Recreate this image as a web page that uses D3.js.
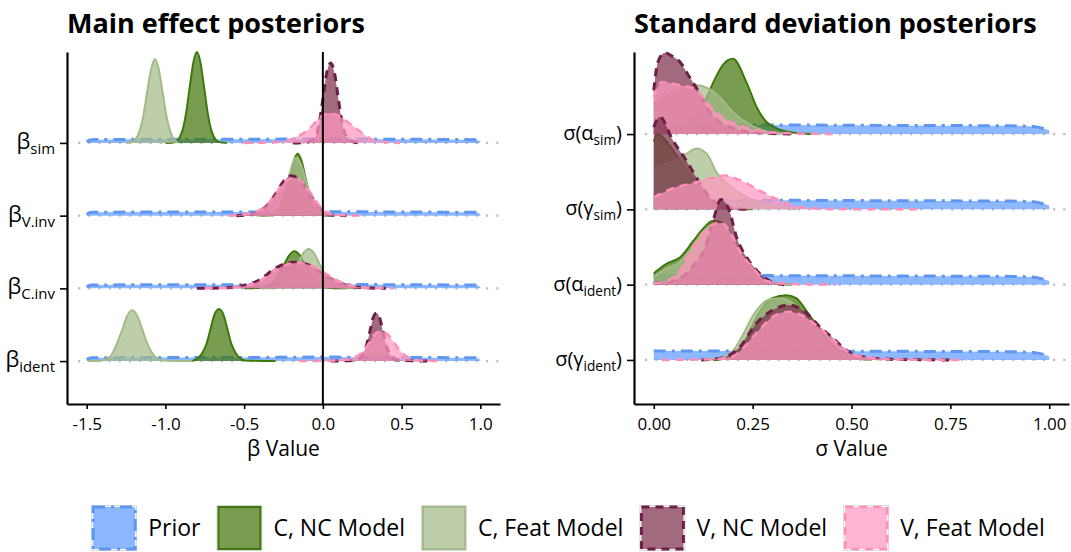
<!DOCTYPE html>
<html>
<head>
<meta charset="utf-8">
<script src="https://cdnjs.cloudflare.com/ajax/libs/d3/7.8.5/d3.min.js"></script>
<style>
body { margin: 0; background: #fff; }
text { font-family: "Open Sans", "Noto Sans", sans-serif; fill: #000; }
</style>
</head>
<body>
<script>

// ---- data ----
// ridge heights are given in "row units" (1 = distance between two rows)
var seriesNames = ["Prior", "C, NC Model", "C, Feat Model", "V, NC Model", "V, Feat Model"];

var betaRows = ["sim", "V.inv", "C.inv", "ident"];
var betaTicks = [-1.5, -1.0, -0.5, 0.0, 0.5, 1.0];

var sigmaRows = [["α", "sim"], ["γ", "sim"], ["α", "ident"], ["γ", "ident"]];
var sigmaTicks = [0, 0.25, 0.5, 0.75, 1.0];

// prior looks the same for every row
var betaPriorRow = [[-1.5,0.02],[-1.47,0.045],[-1.0,0.05],[-0.5,0.05],[0,0.055],[0.5,0.05],[0.97,0.045],[1.0,0.02]];
var betaPrior = [betaPriorRow, betaPriorRow, betaPriorRow, betaPriorRow];

var betaCNC = [
	[[-1.0,0],[-0.94,0.01],[-0.915,0.055],[-0.892,0.169],[-0.869,0.406],[-0.846,0.759],[-0.823,1.1],[-0.80,1.25],[-0.777,1.1],[-0.754,0.759],[-0.731,0.406],[-0.708,0.169],[-0.685,0.055],[-0.662,0.014],[-0.61,0]],
	[[-0.40,0],[-0.31,0.01],[-0.26,0.11],[-0.235,0.28],[-0.21,0.52],[-0.185,0.75],[-0.16,0.85],[-0.135,0.75],[-0.11,0.52],[-0.085,0.28],[-0.06,0.11],[-0.01,0.01],[0.05,0]],
	[[-0.5,0],[-0.39,0.01],[-0.32,0.07],[-0.285,0.17],[-0.25,0.31],[-0.215,0.45],[-0.18,0.51],[-0.145,0.45],[-0.11,0.31],[-0.075,0.17],[-0.04,0.07],[0.03,0.01],[0.15,0]],
	[[-0.83,0],[-0.80,0.03],[-0.77,0.097],[-0.74,0.23],[-0.715,0.43],[-0.69,0.63],[-0.66,0.715],[-0.63,0.63],[-0.605,0.43],[-0.58,0.23],[-0.55,0.097],[-0.52,0.03],[-0.495,0.008],[-0.30,0]]
];
var betaCFeat = [
	[[-1.25,0],[-1.214,0.013],[-1.19,0.05],[-1.165,0.156],[-1.14,0.375],[-1.116,0.70],[-1.09,1.02],[-1.067,1.155],[-1.043,1.02],[-1.018,0.70],[-0.994,0.375],[-0.969,0.156],[-0.945,0.05],[-0.92,0]],
	[[-0.42,0],[-0.33,0.01],[-0.28,0.1],[-0.25,0.26],[-0.22,0.49],[-0.195,0.7],[-0.17,0.8],[-0.14,0.71],[-0.11,0.5],[-0.08,0.28],[-0.05,0.12],[0,0.02],[0.06,0]],
	[[-0.4,0],[-0.30,0.01],[-0.23,0.07],[-0.195,0.18],[-0.16,0.33],[-0.125,0.48],[-0.09,0.54],[-0.055,0.48],[-0.02,0.33],[0.015,0.18],[0.05,0.07],[0.12,0.01],[0.25,0]],
	[[-1.49,0],[-1.405,0.008],[-1.37,0.03],[-1.34,0.095],[-1.31,0.23],[-1.275,0.425],[-1.243,0.62],[-1.21,0.70],[-1.178,0.62],[-1.145,0.425],[-1.113,0.23],[-1.08,0.095],[-1.048,0.03],[-1.015,0.008],[-0.83,0]]
];
var betaVNC = [
	[[-0.19,0],[-0.10,0.01],[-0.05,0.07],[-0.025,0.25],[0,0.60],[0.025,0.97],[0.05,1.10],[0.075,0.95],[0.10,0.58],[0.125,0.25],[0.15,0.08],[0.2,0.01],[0.25,0]],
	[[-0.55,0],[-0.45,0.02],[-0.4,0.06],[-0.35,0.15],[-0.3,0.30],[-0.25,0.47],[-0.2,0.55],[-0.15,0.5],[-0.1,0.34],[-0.05,0.2],[0,0.05],[0.05,0.01],[0.15,0]],
	[[-0.8,0],[-0.6,0.01],[-0.5,0.04],[-0.4,0.12],[-0.3,0.28],[-0.19,0.36],[-0.1,0.33],[0,0.2],[0.1,0.08],[0.2,0.02],[0.3,0.005],[0.4,0]],
	[[0.05,0],[0.2,0.01],[0.25,0.08],[0.275,0.2],[0.3,0.42],[0.32,0.6],[0.34,0.66],[0.36,0.6],[0.38,0.42],[0.405,0.2],[0.43,0.08],[0.48,0.01],[0.7,0]]
];
var betaVFeat = [
	[[-0.5,0],[-0.3,0.01],[-0.2,0.05],[-0.1,0.17],[0,0.38],[0.05,0.41],[0.1,0.37],[0.2,0.22],[0.3,0.06],[0.4,0.01],[0.49,0]],
	[[-0.6,0],[-0.5,0.02],[-0.4,0.08],[-0.35,0.16],[-0.3,0.30],[-0.25,0.45],[-0.19,0.52],[-0.13,0.46],[-0.08,0.32],[-0.03,0.16],[0.02,0.05],[0.1,0.01],[0.25,0]],
	[[-0.75,0],[-0.6,0.01],[-0.5,0.03],[-0.4,0.1],[-0.3,0.25],[-0.17,0.35],[-0.08,0.32],[0.02,0.2],[0.12,0.08],[0.22,0.02],[0.32,0.005],[0.45,0]],
	[[-0.15,0],[0.1,0.01],[0.2,0.05],[0.25,0.12],[0.3,0.27],[0.33,0.37],[0.37,0.41],[0.41,0.37],[0.45,0.26],[0.5,0.12],[0.55,0.04],[0.6,0.01],[0.75,0]]
];

var sigmaPriorRow = [[0,0.12],[0.3,0.12],[0.6,0.115],[0.9,0.11],[0.96,0.1],[1.0,0.05]];
var sigmaPrior = [sigmaPriorRow, sigmaPriorRow, sigmaPriorRow, sigmaPriorRow];

var sigmaCNC = [
	[[0,0.02],[0.05,0.05],[0.1,0.2],[0.133,0.48],[0.15,0.68],[0.175,0.92],[0.2,1.0],[0.235,0.68],[0.26,0.36],[0.285,0.16],[0.31,0.08],[0.35,0.02],[0.4,0]],
	[[0,0.9],[0.01,1.0],[0.04,0.85],[0.07,0.62],[0.1,0.4],[0.12,0.25],[0.15,0.1],[0.2,0.02],[0.25,0]],
	[[0,0.15],[0.033,0.28],[0.066,0.36],[0.1,0.58],[0.124,0.74],[0.15,0.85],[0.175,0.82],[0.2,0.6],[0.23,0.32],[0.26,0.12],[0.3,0.02],[0.35,0]],
	[[0.15,0],[0.18,0.02],[0.21,0.09],[0.235,0.3],[0.26,0.57],[0.3,0.82],[0.335,0.86],[0.36,0.82],[0.385,0.66],[0.42,0.4],[0.46,0.15],[0.5,0.04],[0.55,0]]
];
var sigmaCFeat = [
	[[0,0.40],[0.03,0.50],[0.06,0.58],[0.09,0.63],[0.11,0.65],[0.14,0.60],[0.167,0.49],[0.2,0.29],[0.235,0.15],[0.27,0.06],[0.3,0.02],[0.35,0]],
	[[0,0.55],[0.04,0.62],[0.083,0.74],[0.108,0.81],[0.134,0.74],[0.16,0.48],[0.184,0.35],[0.235,0.16],[0.3,0.05],[0.36,0]],
	[[0,0.1],[0.033,0.22],[0.066,0.3],[0.1,0.52],[0.124,0.7],[0.15,0.8],[0.175,0.8],[0.2,0.6],[0.23,0.32],[0.26,0.12],[0.3,0.02],[0.35,0]],
	[[0.13,0],[0.17,0.03],[0.2,0.12],[0.225,0.33],[0.25,0.58],[0.29,0.8],[0.32,0.82],[0.35,0.76],[0.38,0.6],[0.41,0.38],[0.45,0.15],[0.5,0.04],[0.55,0]]
];
var sigmaVNC = [
	[[0,0.58],[0.01,0.95],[0.028,1.08],[0.045,1.04],[0.066,0.96],[0.09,0.76],[0.116,0.54],[0.133,0.36],[0.16,0.19],[0.2,0.08],[0.26,0.02],[0.35,0]],
	[[0,1.09],[0.015,1.23],[0.048,0.92],[0.082,0.65],[0.108,0.42],[0.134,0.21],[0.167,0.05],[0.2,0.01],[0.25,0]],
	[[0,0.02],[0.05,0.05],[0.1,0.25],[0.13,0.5],[0.15,0.85],[0.17,1.13],[0.19,1.0],[0.21,0.62],[0.235,0.36],[0.26,0.19],[0.293,0.05],[0.33,0]],
	[[0.12,0],[0.175,0.03],[0.217,0.17],[0.26,0.49],[0.3,0.66],[0.34,0.73],[0.38,0.65],[0.42,0.44],[0.453,0.29],[0.495,0.1],[0.53,0.04],[0.6,0.01],[0.755,0]]
];
var sigmaVFeat = [
	[[0,0.49],[0.02,0.69],[0.066,0.65],[0.1,0.61],[0.133,0.43],[0.167,0.25],[0.2,0.15],[0.26,0.05],[0.32,0.015],[0.46,0]],
	[[0,0.16],[0.048,0.28],[0.1,0.35],[0.15,0.42],[0.18,0.45],[0.217,0.39],[0.268,0.25],[0.318,0.12],[0.37,0.03],[0.45,0.005],[0.68,0]],
	[[0,0.02],[0.033,0.05],[0.066,0.19],[0.09,0.42],[0.124,0.68],[0.15,0.8],[0.172,0.82],[0.195,0.68],[0.217,0.45],[0.25,0.23],[0.285,0.05],[0.35,0.01],[0.46,0]],
	[[0.02,0],[0.15,0.01],[0.2,0.05],[0.26,0.36],[0.3,0.57],[0.34,0.64],[0.38,0.58],[0.42,0.42],[0.46,0.24],[0.5,0.08],[0.55,0.03],[0.62,0.005],[0.79,0]]
];

// ---- styles ----
var fills   = ["#619CFF", "#44770D", "#A5BB89", "#7D304C", "#FF99BF"];
var strokes = ["#5E96F0", "#3B7A0A", "#A3BB88", "#6E1F45", "#FF8FB8"];
var widths  = [3, 2, 2, 3, 2.5];
var dashes  = ["12,6,3,6", null, null, "8,6", "8,6"];

var svg = d3.select("body").append("svg")
		.attr("width", 1071)
		.attr("height", 552);

function drawPanel (opts) {
	var g = svg.append("g");
	var x = d3.scaleLinear().domain(opts.xDomain).range(opts.xRange);
	// rows are counted from the bottom: last row = 0
	var y = d3.scaleLinear().domain(opts.yDomain).range([404, 52]);
	var n = opts.rows.length;

	// dotted grid at every ridge baseline
	g.selectAll(".grid").data(opts.rows).enter().append("line")
			.attr("x1", opts.xRange[0] + 11)
			.attr("x2", opts.xRange[1])
			.attr("y1", function (d, i) { return y(n - 1 - i); })
			.attr("y2", function (d, i) { return y(n - 1 - i); })
			.attr("stroke", "#bdbdbd")
			.attr("stroke-width", 2.2)
			.attr("stroke-dasharray", "2.2,8");

	// ridges, top row first so lower rows sit on top
	for (var r = 0; r < n; r++) {
		var base = n - 1 - r;
		var area = d3.area()
				.x(function (d) { return x(d[0]); })
				.y0(y(base))
				.y1(function (d) { return y(base + d[1]); })
				.curve(d3.curveMonotoneX);
		var line = d3.line()
				.x(function (d) { return x(d[0]); })
				.y(function (d) { return y(base + d[1]); })
				.curve(d3.curveMonotoneX);

		for (var s = 0; s < opts.series.length; s++) {
			var pts = opts.series[s][r];
			g.append("path")
					.attr("d", area(pts))
					.attr("fill", fills[s])
					.attr("fill-opacity", 0.72);
			g.append("path")
					.attr("d", line(pts))
					.attr("fill", "none")
					.attr("stroke", strokes[s])
					.attr("stroke-width", widths[s])
					.attr("stroke-dasharray", dashes[s]);
		}
	}

	if (opts.zeroLine) {
		g.append("line")
				.attr("x1", x(0)).attr("x2", x(0))
				.attr("y1", 52).attr("y2", 404)
				.attr("stroke", "#000")
				.attr("stroke-width", 2);
	}

	// x axis
	var xAxis = g.append("g")
			.attr("transform", "translate(0,404)")
			.call(d3.axisBottom(x).tickValues(opts.ticks).tickFormat(opts.fmt).tickSize(5).tickSizeOuter(0));
	xAxis.select(".domain").attr("stroke-width", 2.2);
	xAxis.selectAll(".tick line").attr("stroke-width", 1.6);
	xAxis.selectAll("text")
			.attr("font-size", 17)
			.attr("font-family", "Open Sans, sans-serif")
			.attr("dy", "1.05em");

	// y axis
	var yAxis = g.append("g")
			.attr("transform", "translate(" + opts.xRange[0] + ",0)")
			.call(d3.axisLeft(y).tickValues(d3.range(n)).tickFormat("").tickSize(7).tickSizeOuter(0));
	yAxis.select(".domain").attr("stroke-width", 2.2);
	yAxis.selectAll(".tick line").attr("stroke-width", 1.6);

	for (var i = 0; i < n; i++) {
		var t = g.append("text")
				.attr("x", opts.xRange[0] - 12)
				.attr("y", y(n - 1 - i) + 6)
				.attr("text-anchor", "end")
				.attr("font-size", opts.labelSize);
		var parts = opts.label(opts.rows[i]);
		t.append("tspan").text(parts[0]);
		t.append("tspan").attr("font-size", opts.labelSize * 0.68).attr("dy", 5).text(parts[1]);
		if (parts[2]) t.append("tspan").attr("dy", -5).text(parts[2]);
	}

	// axis title
	g.append("text")
			.attr("x", (opts.xRange[0] + opts.xRange[1]) / 2)
			.attr("y", 456)
			.attr("text-anchor", "middle")
			.attr("font-size", 21)
			.text(opts.xTitle);

	// panel title
	g.append("text")
			.attr("x", opts.xRange[0])
			.attr("y", 33)
			.attr("font-size", 27)
			.attr("font-weight", "bold")
			.text(opts.title);
}

drawPanel({
	title: "Main effect posteriors",
	xTitle: "β Value",
	xDomain: [-1.625, 1.125],
	xRange: [67, 500],
	yDomain: [-0.59, 4.25],
	rows: betaRows,
	ticks: betaTicks,
	fmt: function (d) { return d.toFixed(1); },
	label: function (d) { return ["β", d]; },
	labelSize: 22,
	series: [betaPrior, betaCNC, betaCFeat, betaVNC, betaVFeat],
	zeroLine: true
});

drawPanel({
	title: "Standard deviation posteriors",
	xTitle: "σ Value",
	xDomain: [-0.05, 1.05],
	xRange: [634, 1069],
	yDomain: [-0.585, 4.09],
	rows: sigmaRows,
	ticks: sigmaTicks,
	fmt: function (d) { return d.toFixed(2); },
	label: function (d) { return ["σ(" + d[0], d[1], ")"]; },
	labelSize: 20,
	series: [sigmaPrior, sigmaCNC, sigmaCFeat, sigmaVNC, sigmaVFeat],
	zeroLine: false
});

// ---- legend ----
var legend = svg.append("g");
var lx = 0;
var keySize = 46;
seriesNames.forEach(function (name, i) {
	var item = legend.append("g").attr("transform", "translate(" + lx + ",505)");
	item.append("rect")
			.attr("x", 0.5).attr("y", 0.5)
			.attr("width", keySize - 1).attr("height", keySize - 1)
			.attr("fill", "#fff")
			.attr("stroke", "#d9d9d9");
	item.append("rect")
			.attr("x", 2).attr("y", 2)
			.attr("width", keySize - 4).attr("height", keySize - 4)
			.attr("fill", fills[i])
			.attr("fill-opacity", 0.72)
			.attr("stroke", strokes[i])
			.attr("stroke-width", widths[i])
			.attr("stroke-dasharray", dashes[i]);
	var txt = item.append("text")
			.attr("x", keySize + 11)
			.attr("y", keySize / 2 + 8)
			.attr("font-size", 23)
			.text(name);
	lx += keySize + 11 + txt.node().getComputedTextLength() + 16;
});
var legendW = lx - 16;
legend.attr("transform", "translate(" + (568 - legendW / 2) + ",0)");

</script>
</body>
</html>
